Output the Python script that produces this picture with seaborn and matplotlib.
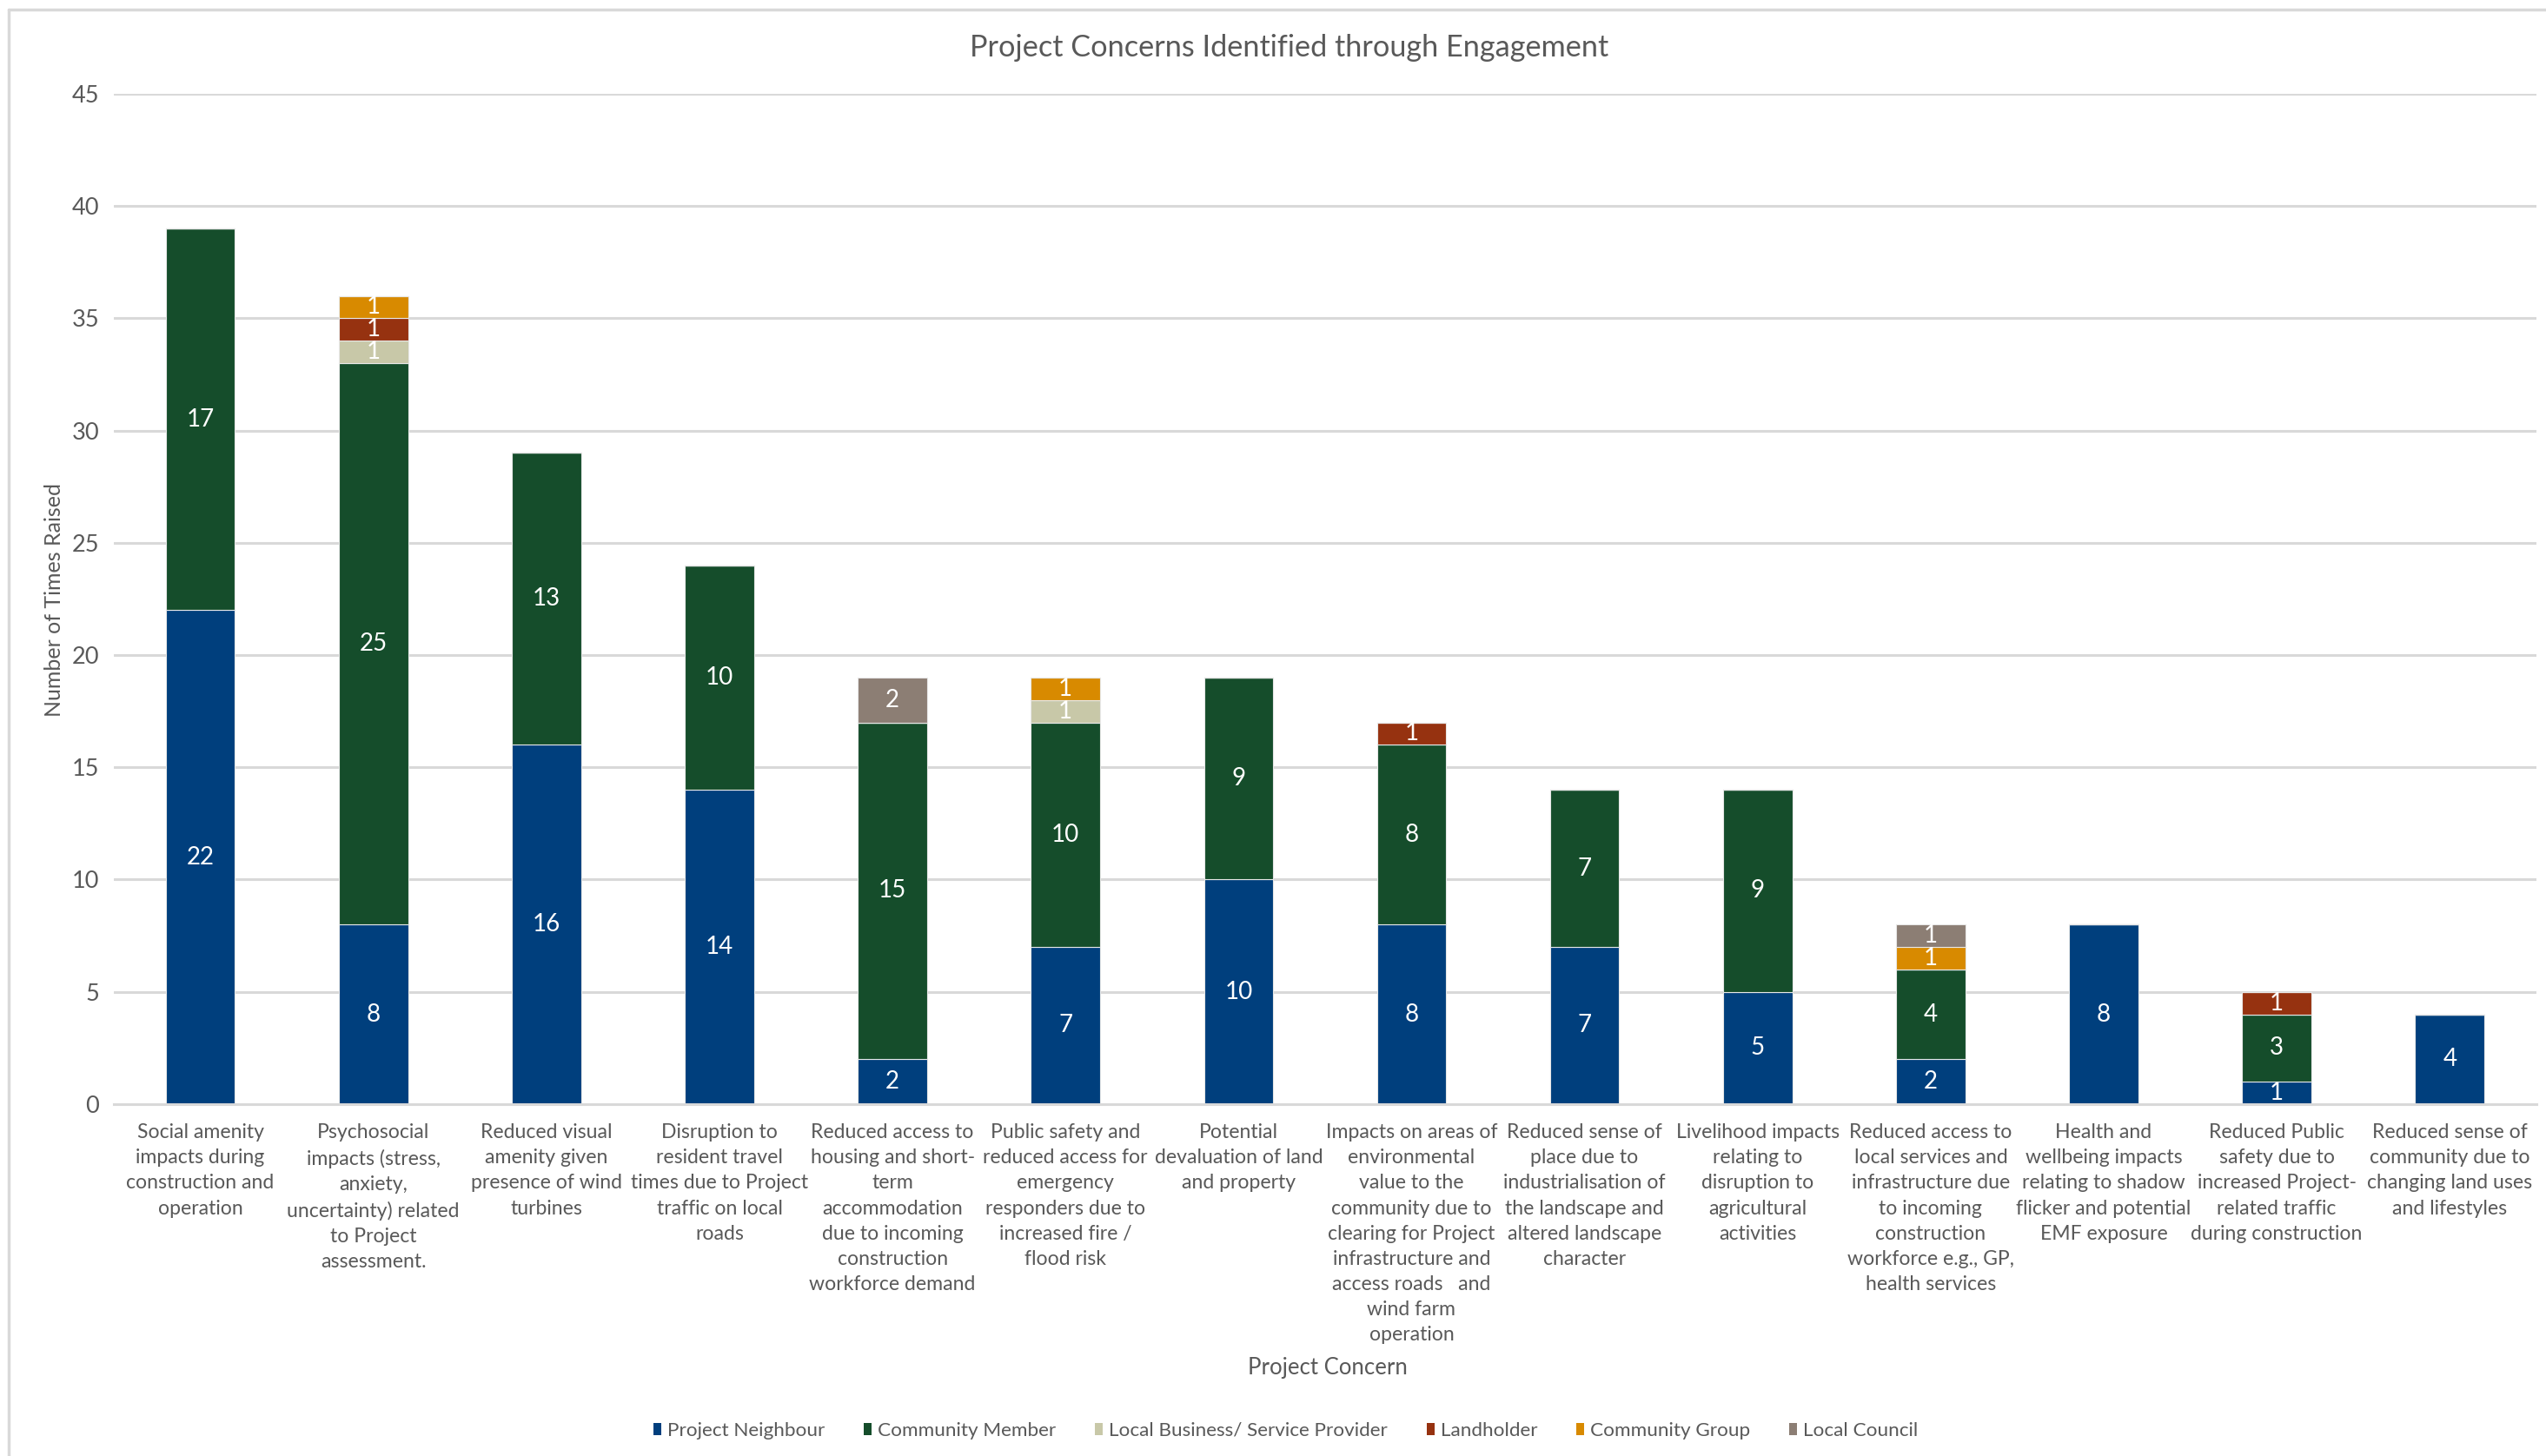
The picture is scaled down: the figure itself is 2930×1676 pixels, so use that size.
import matplotlib
matplotlib.use("Agg")
import matplotlib.pyplot as plt
from matplotlib.lines import Line2D
from matplotlib.patches import Patch
import numpy as np
import pandas as pd
import seaborn as sns

categories = [
    "Social amenity\nimpacts during\nconstruction and\noperation",
    "Psychosocial\nimpacts (stress,\nanxiety,\nuncertainty) related\nto Project\nassessment.",
    "Reduced visual\namenity given\npresence of wind\nturbines",
    "Disruption to\nresident travel\ntimes due to Project\ntraffic on local\nroads",
    "Reduced access to\nhousing and short-\nterm\naccommodation\ndue to incoming\nconstruction\nworkforce demand",
    "Public safety and\nreduced access for\nemergency\nresponders due to\nincreased fire /\nflood risk",
    "Potential\ndevaluation of land\nand property",
    "Impacts on areas of\nenvironmental\nvalue to the\ncommunity due to\nclearing for Project\ninfrastructure and\naccess roads   and\nwind farm\noperation",
    "Reduced sense of\nplace due to\nindustrialisation of\nthe landscape and\naltered landscape\ncharacter",
    "Livelihood impacts\nrelating to\ndisruption to\nagricultural\nactivities",
    "Reduced access to\nlocal services and\ninfrastructure due\nto incoming\nconstruction\nworkforce e.g., GP,\nhealth services",
    "Health and\nwellbeing impacts\nrelating to shadow\nflicker and potential\nEMF exposure",
    "Reduced Public\nsafety due to\nincreased Project-\nrelated traffic\nduring construction",
    "Reduced sense of\ncommunity due to\nchanging land uses\nand lifestyles",
]

project_neighbour = [22, 8, 16, 14, 2, 7, 10, 8, 7, 5, 2, 8, 1, 4]
community_member  = [17, 25, 13, 10, 15, 10, 9, 8, 7, 9, 4, 0, 3, 0]
local_business    = [0, 1, 0, 0, 0, 1, 0, 0, 0, 0, 0, 0, 0, 0]
landholder        = [0, 1, 0, 0, 0, 0, 0, 1, 0, 0, 0, 0, 1, 0]
community_group   = [0, 1, 0, 0, 0, 1, 0, 0, 0, 0, 1, 0, 0, 0]
local_council     = [0, 0, 0, 0, 2, 0, 0, 0, 0, 0, 1, 0, 0, 0]

series_names = ["Project Neighbour", "Community Member", "Local Business/ Service Provider",
                "Landholder", "Community Group", "Local Council"]
series_values = [project_neighbour, community_member, local_business,
                 landholder, community_group, local_council]
series_colors = ["#003F7D", "#154D2B", "#C8C8A8", "#963210", "#D88A00", "#8C7E74"]

sns.set_theme(style="white")
plt.rcParams["font.family"] = ["Lato", "DejaVu Sans"]

fig = plt.figure(figsize=(29.30, 16.76), dpi=100)
ax = fig.add_axes([0.0447, 0.2417, 0.9515, 0.6939])

text_grey = "#595959"
x_idx = np.arange(len(categories))
bottom = np.zeros(len(categories))
for name, vals, col in zip(series_names, series_values, series_colors):
    vals = np.array(vals, dtype=float)
    df = pd.DataFrame({"cat": categories, "val": vals})
    sns.barplot(data=df, x="cat", y="val", order=categories, color=col,
                bottom=bottom, width=0.4, ax=ax, saturation=1,
                edgecolor="#E8E8E8", linewidth=0.8, errorbar=None)
    for i, v in enumerate(vals):
        if v > 0:
            ax.text(i, bottom[i] + v / 2, f"{int(v)}", ha="center", va="center",
                    color="white", fontsize=20)
    bottom = bottom + vals

ax.set_xlim(-0.5, len(categories) - 0.5)
ax.set_ylim(0, 45)
ax.set_yticks(np.arange(0, 46, 5))
ax.yaxis.grid(True, color="#D9D9D9", linewidth=2.2)
ax.set_axisbelow(True)
for s in ["top", "right", "left"]:
    ax.spines[s].set_visible(False)
ax.spines["bottom"].set_color("#D9D9D9")
ax.spines["bottom"].set_linewidth(2.2)
ax.tick_params(axis="y", length=0, labelsize=19.5, labelcolor=text_grey, pad=12)
ax.tick_params(axis="x", length=0, labelsize=16.6, labelcolor=text_grey, pad=16)
ax.set_xticks(x_idx)
ax.set_xticklabels(categories, linespacing=1.48)
ax.set_xlabel("")
ax.set_ylabel("")

fig.text(0.5065, 0.967, "Project Concerns Identified through Engagement",
         ha="center", va="center", fontsize=24.7, color=text_grey)
fig.text(0.5215, 0.0605, "Project Concern", ha="center", va="center",
         fontsize=18.5, color=text_grey)
fig.text(0.0215, 0.588, "Number of Times Raised", ha="center", va="center",
         rotation=90, fontsize=18, color=text_grey)

handles = [Patch(facecolor=c, edgecolor="none") for c in series_colors]
leg = fig.legend(handles, series_names, loc="center", bbox_to_anchor=(0.505, 0.0175),
                 ncol=6, frameon=False, fontsize=16.2, handlelength=0.4, handleheight=0.6,
                 handletextpad=0.3, columnspacing=2.0)
for t in leg.get_texts():
    t.set_color(text_grey)

# outer chart border (top and left visible)
fig.add_artist(Line2D([0.0034, 1.0], [0.9934, 0.9934], transform=fig.transFigure,
                      color="#D9D9D9", linewidth=2.5))
fig.add_artist(Line2D([0.0034, 0.0034], [0.0, 0.9934], transform=fig.transFigure,
                      color="#D9D9D9", linewidth=2.5))

fig.savefig("out.png", dpi=100, facecolor="white")
